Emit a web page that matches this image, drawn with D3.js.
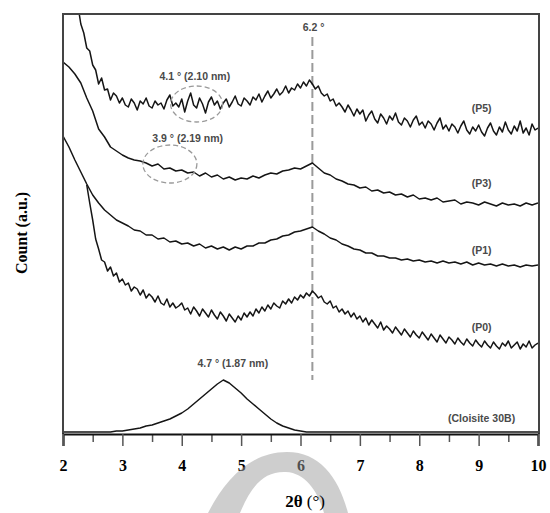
<!DOCTYPE html>
<html>
<head>
<meta charset="utf-8">
<script src="https://cdn.jsdelivr.net/npm/d3@7"></script>
<style>
  html, body { margin: 0; padding: 0; background: #fff; }
  svg { display: block; }
</style>
</head>
<body>
<svg id="chart" width="550" height="513"></svg>
<script>
// XRD patterns of the composites (P0..P5) and the pristine clay, 2θ = 2..10°

// P5: sampled every 0.05° from 2.00°
const p5Start = 2.0, p5Step = 0.05;
const p5Counts = [
  514,497,478,463,442,429,410,401,386,383,369,364,350,356,344,345,334,341,338,331,
  336,329,327,335,331,324,333,330,336,328,326,333,329,331,325,334,339,328,331,327,
  335,322,333,341,329,326,336,330,321,332,337,329,333,325,331,335,327,332,338,330,
  328,336,333,329,337,334,340,332,338,343,336,340,345,339,342,348,341,346,344,350,
  346,352,348,354,350,345,348,341,338,340,333,335,328,331,327,322,329,324,318,325,
  320,324,313,319,323,315,311,320,316,310,318,314,321,312,309,316,313,307,314,318,
  309,312,306,313,310,304,311,316,305,309,303,310,307,301,308,313,304,300,307,303,
  309,302,298,306,311,303,299,307,302,312,304,300,308,303,313,301,306,299,310,304,
  306
];

// P3: sampled every 0.1° from 2.0°
const p3Start = 2.0, p3Step = 0.1;
const p3Counts = [
  372,367,360,351,336,323,305,297,287,283,
  279,276,274,273,271,268,270,265,266,263,
  264,261,262,258,261,257,259,255,257,254,
  256,255,258,256,259,261,260,263,264,266,
  265,268,271,266,261,259,255,253,250,249,
  246,247,243,244,241,242,239,240,237,239,
  235,236,234,236,232,233,234,230,232,231,
  229,232,230,228,231,229,230,228,231,229,
  231
];

// P1: sampled every 0.1° from 2.0°
const p1Start = 2.0, p1Step = 0.1;
const p1Counts = [
  298,287,274,262,250,239,231,224,219,214,
  211,208,204,203,199,199,195,196,192,193,
  190,191,188,190,186,188,185,187,184,187,
  185,188,188,191,191,194,195,198,199,202,
  203,205,207,203,200,196,194,190,188,185,
  184,181,181,178,178,176,176,174,175,173,
  174,172,173,171,173,171,172,170,172,169,
  171,169,170,168,170,168,169,167,169,168,
  169
];

// P0: sampled every 0.05° from 2.40°
const p0Start = 2.4, p0Step = 0.05;
const p0Counts = [
  249,231,214,195,185,174,172,163,167,158,161,152,
  155,149,151,143,147,145,139,144,136,140,137,132,138,131,129,135,127,131,126,128,
  131,124,126,120,127,123,118,125,121,117,124,119,115,122,118,113,120,116,112,118,
  114,121,117,122,118,125,121,127,123,129,125,131,128,126,133,130,135,131,137,134,
  139,136,141,138,143,140,136,138,132,130,133,126,128,122,125,120,123,117,121,115,
  118,112,116,109,114,110,106,112,104,108,105,101,107,103,99,105,101,97,103,99,
  96,102,98,94,100,96,92,99,95,91,97,94,90,96,92,89,95,91,88,94,
  90,87,93,89,86,92,88,85,91,88,93,86,89,92,85,90,87,93,86,89,
  91
];

// Cloisite 30B: sampled every 0.1° from 2.0°
const clStart = 2.0, clStep = 0.1;
const clCounts = [
  2,2,2,2,2,2,2,2,2,3,
  3,4,5,6,8,9,11,13,15,18,
  21,25,30,35,40,45,50,54,51,46,
  41,35,30,25,20,15,11,8,6,4,
  3,2,2,2,2,2,2,2,2,2,
  2,2,2,2,2,2,2,2,2,2,
  2,2,2,2,2,2,2,2,2,2,
  2,2,2,2,2,2,2,2,2,2,
  2
];

const xMajorTicks = [2, 3, 4, 5, 6, 7, 8, 9, 10];
const xMinorTicks = [2.5, 3.5, 4.5, 5.5, 6.5, 7.5, 8.5, 9.5];

const seriesLabels = [
  { text: "(P5)", x: 9.05, y: 326 },
  { text: "(P3)", x: 9.05, y: 251 },
  { text: "(P1)", x: 9.05, y: 184 },
  { text: "(P0)", x: 9.05, y: 107 },
  { text: "(Cloisite 30B)", x: 9.05, y: 16 }
];

const peakNotes = [
  { text: "6.2 °", x: 6.22, y: 407 },
  { text: "4.1 ° (2.10 nm)", x: 4.22, y: 358 },
  { text: "3.9 ° (2.19 nm)", x: 4.10, y: 296 },
  { text: "4.7 ° (1.87 nm)", x: 4.86, y: 71 }
];

const peakRings = [
  { x: 4.25, y: 330, rx: 26, ry: 18 },
  { x: 3.80, y: 270, rx: 27, ry: 19 }
];

const basalLine = 6.2;

// ---------------------------------------------------------------
const svg = d3.select("#chart");
const plotLeft = 63, plotRight = 538, plotTop = 14, plotBottom = 434;

const x = d3.scaleLinear().domain([2, 10]).range([plotLeft, plotRight]);
const y = d3.scaleLinear().domain([0, 420]).range([plotBottom, plotTop]);

svg.append("defs").append("clipPath").attr("id", "plotClip")
  .append("rect")
  .attr("x", plotLeft).attr("y", plotTop)
  .attr("width", plotRight - plotLeft).attr("height", plotBottom - plotTop);

const toPoints = (start, step, counts) => counts.map((c, i) => [start + i * step, c]);

const line = d3.line().x(d => x(d[0])).y(d => y(d[1]));

// dashed marker at the shared basal reflection
svg.append("line")
  .attr("x1", x(basalLine)).attr("x2", x(basalLine))
  .attr("y1", y(397)).attr("y2", y(54))
  .attr("stroke", "#9a9a9a")
  .attr("stroke-width", 2)
  .attr("stroke-dasharray", "9,4");

const curves = [
  toPoints(p5Start, p5Step, p5Counts),
  toPoints(p3Start, p3Step, p3Counts),
  toPoints(p1Start, p1Step, p1Counts),
  toPoints(p0Start, p0Step, p0Counts),
  toPoints(clStart, clStep, clCounts)
];

svg.append("g").attr("clip-path", "url(#plotClip)")
  .selectAll("path").data(curves).join("path")
  .attr("d", line)
  .attr("fill", "none")
  .attr("stroke", "#151515")
  .attr("stroke-width", 1.5)
  .attr("stroke-linejoin", "round");

// frame: left, top, right
svg.append("path")
  .attr("d", `M${plotLeft},${plotBottom}V${plotTop}H${plotRight + 1}V${plotBottom}`)
  .attr("fill", "none")
  .attr("stroke", "#444")
  .attr("stroke-width", 2);

// bottom axis
const xAxis = svg.append("g").attr("transform", `translate(0,${plotBottom})`);
xAxis.call(d3.axisBottom(x).tickValues(xMinorTicks).tickSize(8).tickFormat(""))
  .call(g => g.select(".domain").remove())
  .call(g => g.selectAll("line").attr("stroke", "#555").attr("stroke-width", 1.5));
const xAxisMajor = svg.append("g").attr("transform", `translate(0,${plotBottom})`);
xAxisMajor.call(d3.axisBottom(x).tickValues(xMajorTicks).tickSize(12).tickPadding(14).tickFormat(d3.format("d")))
  .call(g => g.select(".domain").attr("stroke", "#111").attr("stroke-width", 2.2))
  .call(g => g.selectAll("line").attr("stroke", "#555").attr("stroke-width", 1.5))
  .call(g => g.selectAll("text")
    .attr("font-family", "'Liberation Serif', 'Times New Roman', serif")
    .attr("font-weight", "bold")
    .attr("font-size", 16)
    .attr("fill", "#000"));

// rings around weak intercalation peaks
svg.append("g").selectAll("ellipse").data(peakRings).join("ellipse")
  .attr("cx", d => x(d.x)).attr("cy", d => y(d.y))
  .attr("rx", d => d.rx).attr("ry", d => d.ry)
  .attr("fill", "none")
  .attr("stroke", "#9a9a9a")
  .attr("stroke-width", 1.3)
  .attr("stroke-dasharray", "5,3");

// peak annotations
svg.append("g").selectAll("text").data(peakNotes).join("text")
  .attr("x", d => x(d.x)).attr("y", d => y(d.y))
  .attr("dy", "0.35em")
  .attr("text-anchor", "middle")
  .attr("font-family", "'Liberation Sans', Arial, sans-serif")
  .attr("font-weight", "bold")
  .attr("font-size", 10.5)
  .attr("fill", "#4a4a4a")
  .text(d => d.text);

// series labels
svg.append("g").selectAll("text").data(seriesLabels).join("text")
  .attr("x", d => x(d.x)).attr("y", d => y(d.y))
  .attr("dy", "0.35em")
  .attr("text-anchor", "middle")
  .attr("font-family", "'Liberation Sans', Arial, sans-serif")
  .attr("font-weight", "bold")
  .attr("font-size", 10.5)
  .attr("fill", "#4a4a4a")
  .text(d => d.text);

// grey swoosh emblem behind the axis title
svg.append("path")
  .attr("d", "M208,513 C225,480 250,452 287,452 C320,452 339,478 348,513 L324,513 C318,492 306,473 286,472 C265,471 252,484 240,513 Z")
  .attr("fill", "#9e9e9e")
  .attr("opacity", 0.5);

// axis titles
const xTitle = svg.append("text")
  .attr("x", 305).attr("y", 507)
  .attr("text-anchor", "middle")
  .attr("font-family", "'Liberation Serif', 'Times New Roman', serif")
  .attr("font-size", 17)
  .attr("fill", "#000");
xTitle.append("tspan").attr("font-weight", "bold").text("2θ ");
xTitle.append("tspan").text("(°)");

svg.append("text")
  .attr("transform", `translate(27,${(plotTop + plotBottom) / 2 + 9}) rotate(-90)`)
  .attr("text-anchor", "middle")
  .attr("font-family", "'Liberation Serif', 'Times New Roman', serif")
  .attr("font-weight", "bold")
  .attr("font-size", 16)
  .attr("fill", "#000")
  .text("Count (a.u.)");
</script>
</body>
</html>
